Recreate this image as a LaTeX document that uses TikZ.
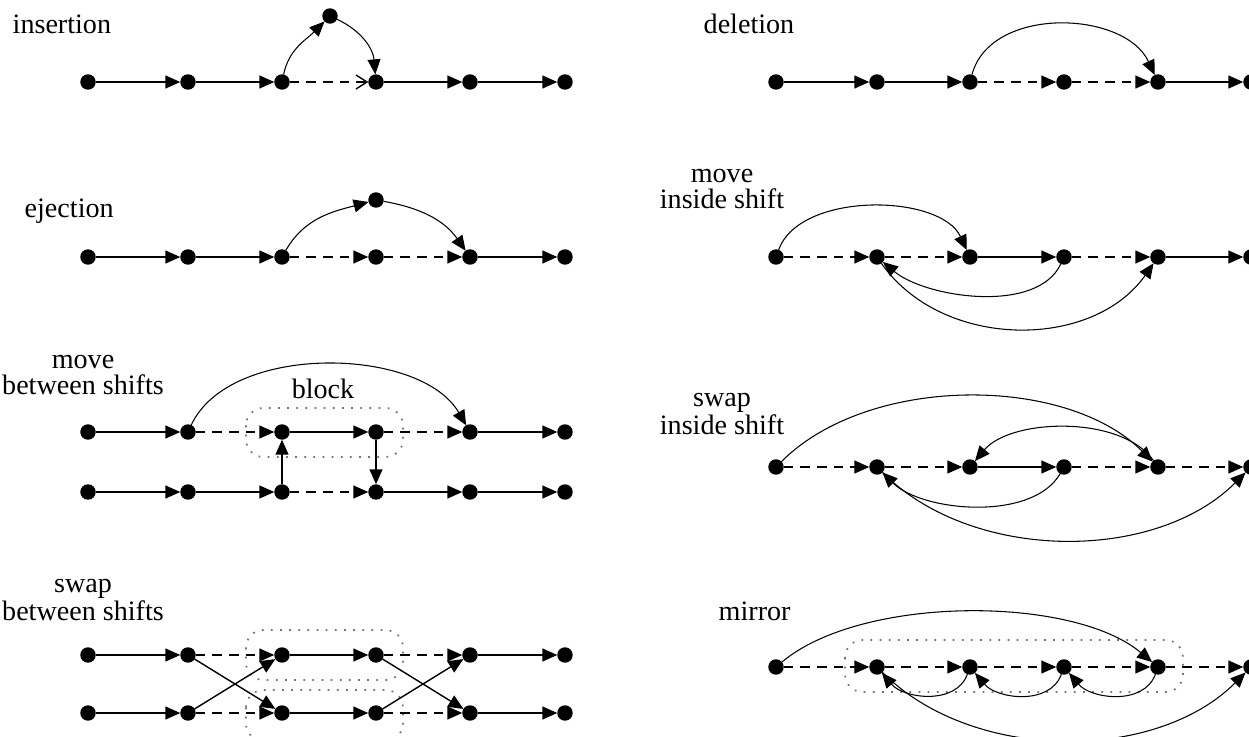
\documentclass[tikz,border=0pt]{standalone}
\usepackage{fontspec}
\setmainfont{Liberation Serif}
\usepackage{tikz}
\usetikzlibrary{arrows.meta}

\begin{document}
\begin{tikzpicture}[x=0.02cm,y=0.02cm,line width=0.8pt,
  ar/.style={-{Triangle[length=3mm,width=2.6mm]}},
  barb/.style={-{Straight Barb[length=2.2mm,width=2.8mm]}},
  gap/.style={dash pattern=on 5.5pt off 4pt},
  arc/.style={ar,line width=0.6pt},
  blockbox/.style={draw=black!55,line width=1pt,dash pattern=on 1pt off 4.2pt,rounded corners=0.35cm},
  lbl/.style={font=\fontsize{16}{14.5}\selectfont,align=center,inner sep=0pt}]
\useasboundingbox (0,0) rectangle (1249,-737);
\clip (0,0) rectangle (1249,-737);
% labels
\node[lbl,anchor=base west] (L_ins) at (12,-33) {insertion};
\node[lbl,anchor=base west] (L_del) at (703,-33) {deletion};
\node[lbl,anchor=base west] (L_ej) at (24,-217) {ejection};
\node[lbl] (L_mi) at (722,-189) {move\\inside shift};
\node[lbl] (L_mb) at (83,-375) {move\\between shifts};
\node[lbl,anchor=base] (L_blk) at (323,-398) {block};
\node[lbl] (L_si) at (722,-414) {swap\\inside shift};
\node[lbl] (L_sb) at (83,-600) {swap\\between shifts};
\node[lbl,anchor=base west] (L_mr) at (718,-620) {mirror};
% blocks
\draw[blockbox] (246,-408) rectangle (403,-457);
\draw[blockbox] (246,-630) rectangle (403,-680);
\draw[blockbox] (246,-690) rectangle (403,-741);
\draw[blockbox] (845,-640) rectangle (1183,-692);
\begin{scope}[shape=circle,minimum size=0.28cm,inner sep=0pt]
\tikzstyle{every node}=[draw,fill]
% insertion
\node (In_0) at (88,-82) {};
\node (In_1) at (188,-82) {};
\node (In_2) at (282,-82) {};
\node (In_3) at (376,-82) {};
\node (In_4) at (470,-82) {};
\node (In_5) at (565,-82) {};
\node (In_t) at (330,-16) {};
\draw [ar] (In_0) -- (In_1);
\draw [ar] (In_1) -- (In_2);
\draw [barb,gap] (In_2) -- (In_3);
\draw [ar] (In_3) -- (In_4);
\draw [ar] (In_4) -- (In_5);
\draw [arc] (In_2) to[out=78,in=-135] (In_t);
\draw [arc] (In_t) to[out=-25,in=95] (In_3);
% deletion
\node (De_0) at (776,-82) {};
\node (De_1) at (877,-82) {};
\node (De_2) at (970,-82) {};
\node (De_3) at (1064,-82) {};
\node (De_4) at (1158,-82) {};
\node (De_5) at (1251,-82) {};
\draw [ar] (De_0) -- (De_1);
\draw [ar] (De_1) -- (De_2);
\draw [ar,gap] (De_2) -- (De_3);
\draw [ar,gap] (De_3) -- (De_4);
\draw [ar] (De_4) -- (De_5);
\draw [arc] (De_2) to[out=75,in=115,looseness=1] (De_4);
% ejection
\node (Ej_0) at (88,-257) {};
\node (Ej_1) at (188,-257) {};
\node (Ej_2) at (282,-257) {};
\node (Ej_3) at (376,-257) {};
\node (Ej_4) at (470,-257) {};
\node (Ej_5) at (565,-257) {};
\node (Ej_t) at (376,-200) {};
\draw [ar] (Ej_0) -- (Ej_1);
\draw [ar] (Ej_1) -- (Ej_2);
\draw [ar,gap] (Ej_2) -- (Ej_3);
\draw [ar,gap] (Ej_3) -- (Ej_4);
\draw [ar] (Ej_4) -- (Ej_5);
\draw [arc] (Ej_2) to[out=60,in=-165] (Ej_t);
\draw [arc] (Ej_t) to[out=-10,in=125] (Ej_4);
% move inside shift
\node (Mi_0) at (776,-257) {};
\node (Mi_1) at (877,-257) {};
\node (Mi_2) at (970,-257) {};
\node (Mi_3) at (1064,-257) {};
\node (Mi_4) at (1158,-257) {};
\node (Mi_5) at (1251,-257) {};
\draw [ar,gap] (Mi_0) -- (Mi_1);
\draw [ar,gap] (Mi_1) -- (Mi_2);
\draw [ar] (Mi_2) -- (Mi_3);
\draw [ar,gap] (Mi_3) -- (Mi_4);
\draw [ar] (Mi_4) -- (Mi_5);
\draw [arc] (Mi_0) to[out=70,in=115,looseness=0.85] (Mi_2);
\draw [arc] (Mi_3) to[out=-115,in=-40,looseness=0.8] (Mi_1);
\draw [arc] (Mi_1) to[out=-55,in=-125,looseness=1] (Mi_4);
% move between shifts
\node (Mb_a0) at (88,-432) {};
\node (Mb_a1) at (188,-432) {};
\node (Mb_a2) at (282,-432) {};
\node (Mb_a3) at (376,-432) {};
\node (Mb_a4) at (470,-432) {};
\node (Mb_a5) at (565,-432) {};
\node (Mb_b0) at (88,-492) {};
\node (Mb_b1) at (188,-492) {};
\node (Mb_b2) at (282,-492) {};
\node (Mb_b3) at (376,-492) {};
\node (Mb_b4) at (470,-492) {};
\node (Mb_b5) at (565,-492) {};
\draw [ar] (Mb_a0) -- (Mb_a1);
\draw [ar,gap] (Mb_a1) -- (Mb_a2);
\draw [ar] (Mb_a2) -- (Mb_a3);
\draw [ar,gap] (Mb_a3) -- (Mb_a4);
\draw [ar] (Mb_a4) -- (Mb_a5);
\draw [ar] (Mb_b0) -- (Mb_b1);
\draw [ar] (Mb_b1) -- (Mb_b2);
\draw [ar,gap] (Mb_b2) -- (Mb_b3);
\draw [ar] (Mb_b3) -- (Mb_b4);
\draw [ar] (Mb_b4) -- (Mb_b5);
\draw [ar] (Mb_b2) -- (Mb_a2);
\draw [ar] (Mb_a3) -- (Mb_b3);
\draw [arc] (Mb_a1) to[out=65,in=120,looseness=0.85] (Mb_a4);
% swap inside shift
\node (Si_0) at (776,-467) {};
\node (Si_1) at (877,-467) {};
\node (Si_2) at (970,-467) {};
\node (Si_3) at (1064,-467) {};
\node (Si_4) at (1158,-467) {};
\node (Si_5) at (1251,-467) {};
\draw [ar,gap] (Si_0) -- (Si_1);
\draw [ar,gap] (Si_1) -- (Si_2);
\draw [ar] (Si_2) -- (Si_3);
\draw [ar,gap] (Si_3) -- (Si_4);
\draw [ar,gap] (Si_4) -- (Si_5);
\draw [arc] (Si_0) to[out=45,in=135,looseness=0.85] (Si_4);
\draw [arc] (Si_4) to[out=125,in=50,looseness=0.8] (Si_2);
\draw [arc] (Si_3) to[out=-120,in=-45,looseness=0.8] (Si_1);
\draw [arc] (Si_1) to[out=-45,in=-135,looseness=0.9] (Si_5);
% swap between shifts
\node (Sb_a0) at (88,-655) {};
\node (Sb_a1) at (188,-655) {};
\node (Sb_a2) at (282,-655) {};
\node (Sb_a3) at (376,-655) {};
\node (Sb_a4) at (470,-655) {};
\node (Sb_a5) at (565,-655) {};
\node (Sb_b0) at (88,-713) {};
\node (Sb_b1) at (188,-713) {};
\node (Sb_b2) at (282,-713) {};
\node (Sb_b3) at (376,-713) {};
\node (Sb_b4) at (470,-713) {};
\node (Sb_b5) at (565,-713) {};
\draw [ar] (Sb_a0) -- (Sb_a1);
\draw [ar,gap] (Sb_a1) -- (Sb_a2);
\draw [ar] (Sb_a2) -- (Sb_a3);
\draw [ar,gap] (Sb_a3) -- (Sb_a4);
\draw [ar] (Sb_a4) -- (Sb_a5);
\draw [ar] (Sb_b0) -- (Sb_b1);
\draw [ar,gap] (Sb_b1) -- (Sb_b2);
\draw [ar] (Sb_b2) -- (Sb_b3);
\draw [ar,gap] (Sb_b3) -- (Sb_b4);
\draw [ar] (Sb_b4) -- (Sb_b5);
\draw [ar] (Sb_a1) -- (Sb_b2);
\draw [ar] (Sb_b1) -- (Sb_a2);
\draw [ar] (Sb_a3) -- (Sb_b4);
\draw [ar] (Sb_b3) -- (Sb_a4);
% mirror
\node (Mr_0) at (776,-667) {};
\node (Mr_1) at (877,-667) {};
\node (Mr_2) at (970,-667) {};
\node (Mr_3) at (1064,-667) {};
\node (Mr_4) at (1158,-667) {};
\node (Mr_5) at (1251,-667) {};
\draw [ar,gap] (Mr_0) -- (Mr_1);
\draw [ar,gap] (Mr_1) -- (Mr_2);
\draw [ar,gap] (Mr_2) -- (Mr_3);
\draw [ar,gap] (Mr_3) -- (Mr_4);
\draw [ar,gap] (Mr_4) -- (Mr_5);
\draw [arc] (Mr_0) to[out=40,in=140,looseness=0.72] (Mr_4);
\draw [arc] (Mr_2) to[out=-110,in=-50,looseness=1] (Mr_1);
\draw [arc] (Mr_3) to[out=-110,in=-50,looseness=1] (Mr_2);
\draw [arc] (Mr_4) to[out=-110,in=-50,looseness=1] (Mr_3);
\draw [arc] (Mr_1) to[out=-45,in=-135,looseness=0.9] (Mr_5);
\end{scope}
\end{tikzpicture}
\end{document}
